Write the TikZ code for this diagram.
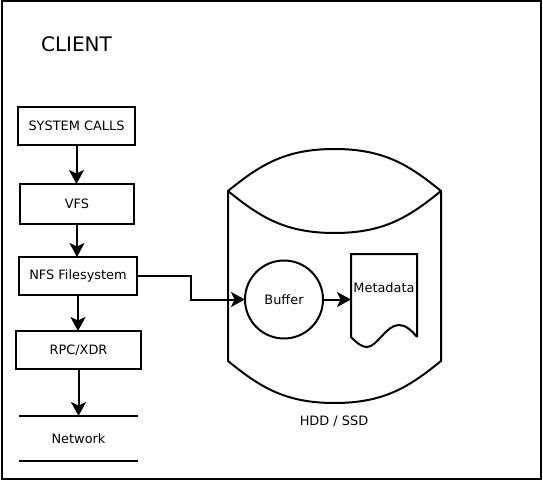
\documentclass[tikz,border=0pt]{standalone}
\usepackage{fontspec}
\setmainfont{DejaVu Sans}
\usetikzlibrary{arrows.meta}
\tikzset{
  ln/.style={line width=2pt,draw=black},
  lbl/.style={inner sep=0pt,outer sep=0pt,font=\fontsize{12.9}{15}\selectfont},
  boxn/.style={lbl,ln,rectangle,anchor=center},
  flow/.style={ln,-{Stealth[length=14pt,width=15pt,inset=3.5pt]}},
  rule/.style={line width=1.8pt,draw=black}
}
\begin{document}
\begin{tikzpicture}[x=1pt,y=-1pt]
\useasboundingbox (0,0) rectangle (543,481);
\fill[white] (0,0) rectangle (543,481);
\draw[ln] (2,1.5) rectangle (541,478.5);
\node[font=\fontsize{20}{24}\selectfont,inner sep=0pt] (client) at (76.5,44) {CLIENT};
% left stack
\node[boxn,minimum width=117pt,minimum height=37.5pt] (sys) at (76.5,125.8) {SYSTEM CALLS};
\node[boxn,minimum width=114pt,minimum height=40pt] (vfs) at (77,204) {VFS};
\node[boxn,minimum width=118pt,minimum height=38pt] (nfs) at (78,276) {NFS Filesystem};
\node[boxn,minimum width=125pt,minimum height=38pt] (rpc) at (78.5,350) {RPC/XDR};
\node[lbl,minimum width=119pt,minimum height=45pt] (net) at (78.5,438.5) {Network};
\draw[rule] (net.north west) -- (net.north east);
\draw[rule] (net.south west) -- (net.south east);
% cylinder
\draw[ln,line join=round] (228,191)
  .. controls (260,165) and (285,149) .. (334.5,149)
  .. controls (384,149) and (409,165) .. (441,191)
  -- (441,361)
  .. controls (409,387) and (384,403) .. (334.5,403)
  .. controls (285,403) and (260,387) .. (228,361)
  -- cycle;
\draw[ln] (228,191) .. controls (260,217) and (285,233) .. (334.5,233)
  .. controls (384,233) and (409,217) .. (441,191);
\node[lbl] (disk) at (334,421.5) {HDD / SSD};
% buffer
\node[boxn,circle,minimum size=78pt] (buf) at (284,299.5) {Buffer};
% metadata document
\coordinate (doc) at (351,299.5);
\draw[ln] (417,337) -- (417,254) -- (351,254) -- (351,337)
  .. controls (358,344) and (362,347) .. (367,347)
  .. controls (377,347) and (386,325) .. (399,325)
  .. controls (406,325) and (412,331) .. (417,337);
\node[lbl] (meta) at (384,288) {Metadata};
% connectors
\coordinate (bend) at (191,299.5);
\draw[flow] (sys.south) -- (sys.south |- vfs.north);
\draw[flow] (vfs.south) -- (vfs.south |- nfs.north);
\draw[flow] (nfs.south) -- (nfs.south |- rpc.north);
\draw[flow] (rpc.south) -- (rpc.south |- net.north);
\draw[flow,line join=miter] (nfs.east) -| (bend) -- (buf.west);
\draw[flow] (buf.east) -- (doc);
\end{tikzpicture}
\end{document}
